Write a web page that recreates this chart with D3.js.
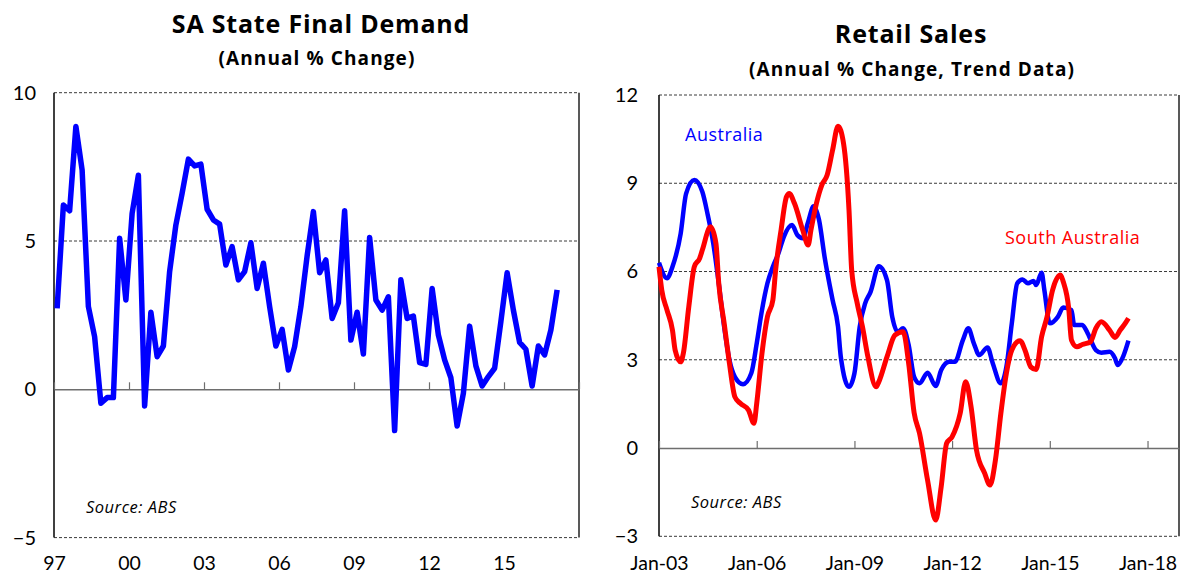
<!DOCTYPE html>
<html>
<head>
<meta charset="utf-8">
<script src="https://cdn.jsdelivr.net/npm/d3@7"></script>
<style>
  html, body { margin: 0; padding: 0; background: #fff; }
  svg { display: block; font-family: Lato, "Open Sans", sans-serif; }
</style>
</head>
<body>
<svg id="chart" width="1184" height="574"></svg>
<script>
// ---------- Data: SA State Final Demand (quarterly, annual % change) ----------
const sfdTickLabels = ["97", "00", "03", "06", "09", "12", "15"];
const sfdValues = [
  2.73, 6.21, 6.02, 8.86, 7.39, 2.79, 1.77, -0.47, -0.28, -0.28,
  5.09, 3.01, 5.93, 7.22, -0.56, 2.60, 1.10, 1.46, 3.97, 5.54,
  6.61, 7.76, 7.53, 7.59, 6.07, 5.71, 5.57, 4.19, 4.81, 3.69,
  3.97, 4.94, 3.40, 4.25, 2.79, 1.46, 2.02, 0.65, 1.44, 2.79,
  4.50, 5.99, 3.93, 4.36, 2.39, 2.92, 6.02, 1.66, 2.60, 1.19,
  5.12, 3.01, 2.67, 3.12, -1.39, 3.69, 2.39, 2.47, 0.90, 0.84,
  3.40, 1.83, 0.99, 0.39, -1.24, -0.13, 2.13, 0.79, 0.11, 0.43,
  0.71, 2.28, 3.93, 2.67, 1.58, 1.35, 0.11, 1.46, 1.16, 2.00,
  3.35
];
const sfdYTicks = [10, 5, 0, -5];

// ---------- Data: Retail Sales (trend, annual % change) ----------
const retailTickLabels = ["Jan-03", "Jan-06", "Jan-09", "Jan-12", "Jan-15", "Jan-18"];
const retailYTicks = [12, 9, 6, 3, 0, -3];

const auMonths = [
  "2003-01","2003-04","2003-06","2003-09","2003-11","2004-02","2004-05","2004-07","2004-09","2004-11",
  "2005-01","2005-03","2005-05","2005-08","2005-11","2006-01","2006-03","2006-05","2006-07","2006-09",
  "2006-11","2007-02","2007-04","2007-06","2007-08","2007-10","2007-12","2008-02","2008-05","2008-07",
  "2008-08","2008-11","2009-01","2009-03","2009-05","2009-07","2009-10","2010-01","2010-03","2010-05",
  "2010-07","2010-09","2010-11","2011-01","2011-04","2011-07","2011-09","2011-12","2012-02","2012-05",
  "2012-07","2012-09","2012-11","2013-02","2013-04","2013-07","2013-09","2013-11","2014-01","2014-03",
  "2014-05","2014-07","2014-08","2014-10","2014-11","2015-01","2015-04","2015-06","2015-09","2015-10",
  "2016-01","2016-03","2016-06","2016-08","2016-11","2017-01","2017-02","2017-04","2017-06"
];
const auValues = [
  6.30, 5.77, 6.16, 7.29, 8.65, 9.11, 8.71, 7.92, 6.95, 5.60,
  4.12, 2.99, 2.42, 2.17, 2.54, 3.56, 4.69, 5.60, 6.16, 6.61,
  7.18, 7.58, 7.24, 7.13, 7.69, 8.22, 7.75, 6.50, 5.03, 4.12,
  3.10, 2.08, 2.54, 4.12, 4.92, 5.31, 6.18, 5.71, 4.46, 3.95,
  4.07, 3.50, 2.42, 2.20, 2.56, 2.11, 2.65, 2.93, 2.93, 3.67,
  4.07, 3.56, 3.16, 3.42, 2.88, 2.20, 2.76, 4.24, 5.60, 5.73,
  5.60, 5.68, 5.54, 5.96, 5.37, 4.24, 4.46, 4.78, 4.69, 4.18,
  4.18, 3.90, 3.33, 3.24, 3.27, 3.05, 2.82, 3.10, 3.65
];

const saMonths = [
  "2003-01","2003-02","2003-04","2003-06","2003-07","2003-09","2003-10","2003-12","2004-02","2004-04",
  "2004-05","2004-08","2004-10","2004-11","2005-01","2005-03","2005-05","2005-07","2005-10","2005-12",
  "2006-01","2006-03","2006-05","2006-07","2006-08","2006-10","2006-12","2007-01","2007-03","2007-06",
  "2007-08","2007-09","2007-11","2008-01","2008-03","2008-05","2008-07","2008-09","2008-11","2008-12",
  "2009-02","2009-04","2009-06","2009-09","2009-10","2010-01","2010-04","2010-07","2010-09","2010-11",
  "2011-01","2011-04","2011-07","2011-09","2011-11","2012-01","2012-04","2012-06","2012-08","2012-10",
  "2013-01","2013-03","2013-05","2013-07","2013-09","2013-11","2014-02","2014-04","2014-06","2014-08",
  "2014-10","2014-12","2015-02","2015-05","2015-06","2015-08","2015-09","2015-11","2016-01","2016-04",
  "2016-06","2016-08","2016-11","2017-01","2017-03","2017-05","2017-06"
];
const saValues = [
  6.16, 5.37, 4.69, 4.01, 3.33, 2.93, 3.22, 4.80, 6.16, 6.45,
  6.73, 7.52, 6.95, 5.60, 4.24, 2.88, 1.74, 1.52, 1.29, 0.84,
  1.52, 3.22, 4.46, 5.03, 6.05, 7.41, 8.54, 8.65, 8.31, 7.41,
  6.90, 7.41, 8.31, 8.94, 9.28, 10.13, 10.94, 10.35, 8.09, 6.05,
  4.92, 4.12, 3.10, 2.08, 2.25, 3.10, 3.84, 3.95, 2.88, 1.20,
  0.50, -1.09, -2.45, -1.31, 0.16, 0.38, 1.18, 2.25, 1.40, -0.07,
  -0.86, -1.26, -0.41, 1.18, 2.54, 3.33, 3.65, 3.30, 2.76, 2.67,
  3.78, 4.46, 5.37, 5.88, 5.65, 4.75, 3.67, 3.44, 3.52, 3.61,
  4.07, 4.29, 4.01, 3.76, 4.01, 4.26, 4.41
];

// ---------- Drawing ----------
const svg = d3.select("#chart");
const FONT = "Lato, 'Open Sans', sans-serif";
const FONT2 = "'Open Sans', Lato, sans-serif";
const parseMonth = d3.timeParse("%Y-%m");

function gridAndFrame(g, y, yTicks, x0, x1) {
  g.selectAll("line.grid").data(yTicks.filter(v => v !== 0)).enter().append("line")
    .attr("class", "grid")
    .attr("x1", x0).attr("x2", x1)
    .attr("y1", d => y(d)).attr("y2", d => y(d))
    .attr("stroke", "#3a3a3a").attr("stroke-width", 1)
    .attr("stroke-dasharray", "3,2");
  const [yb, yt] = y.range();
  g.append("line").attr("x1", x0).attr("x2", x0).attr("y1", yt).attr("y2", yb)
    .attr("stroke", "#000").attr("stroke-width", 1.5);
  g.append("line").attr("x1", x1).attr("x2", x1).attr("y1", yt).attr("y2", yb)
    .attr("stroke", "#222").attr("stroke-width", 1.5);
}

function yLabels(g, y, ticks, xRight) {
  const ax = d3.axisLeft(y).tickValues(ticks).tickSize(0).tickPadding(0)
    .tickFormat(d3.format("d"));
  const ga = g.append("g").attr("transform", `translate(${xRight},0)`).call(ax);
  ga.select(".domain").remove();
  ga.selectAll("text").attr("font-family", FONT).attr("font-size", 20).attr("fill", "#000");
}

function xLabels(g, axis) {
  const gb = g.append("g").attr("transform", "translate(0,556)").call(axis);
  gb.select(".domain").remove();
  gb.selectAll("text").attr("font-family", FONT).attr("font-size", 19.5).attr("fill", "#000");
}

function addText(g, x, y, str, opts) {
  const t = g.append("text").attr("x", x).attr("y", y).text(str)
    .attr("font-family", FONT2).attr("fill", opts.fill || "#000")
    .attr("font-size", opts.size)
    .attr("letter-spacing", opts.ls || 0);
  if (opts.bold) t.attr("font-weight", "bold");
  if (opts.italic) t.attr("font-style", "italic");
  if (opts.anchor) t.attr("text-anchor", opts.anchor);
  return t;
}

// ===== Left chart =====
{
  const x0 = 54, x1 = 579;
  const x = d3.scaleLinear().domain([0, 84]).range([x0, x1]);
  const y = d3.scaleLinear().domain([-5, 10]).range([537.6, 92.7]);
  const g = svg.append("g");
  gridAndFrame(g, y, sfdYTicks, x0, x1);

  const tickCats = d3.range(0, 85, 12);
  const axT = d3.axisTop(x).tickValues(tickCats).tickSize(7).tickSizeOuter(0).tickFormat("");
  const gz = g.append("g").attr("transform", `translate(0,${y(0)})`).call(axT);
  gz.select(".domain").attr("stroke", "#6e6e6e").attr("stroke-width", 1.5);
  gz.selectAll(".tick line").attr("stroke", "#6e6e6e").attr("stroke-width", 1.2);

  xLabels(g, d3.axisBottom(x).tickValues(tickCats.slice(0, sfdTickLabels.length))
    .tickSize(0).tickPadding(0).tickFormat((d, i) => sfdTickLabels[i]));

  yLabels(g, y, sfdYTicks, 36);

  const line = d3.line().x((d, i) => x(i + 0.5)).y(d => y(d));
  g.append("path").datum(sfdValues).attr("d", line)
    .attr("fill", "none").attr("stroke", "#0000ff").attr("stroke-width", 5.5)
    .attr("stroke-linejoin", "round");

  addText(g, 86, 513, "Source: ABS", { size: 16.5, italic: true, ls: 0.5 });
  addText(g, 321, 33, "SA State Final Demand", { size: 25, bold: true, ls: 0.8, anchor: "middle" });
  addText(g, 317, 65, "(Annual % Change)", { size: 19, bold: true, ls: 1.1, anchor: "middle" });
}

// ===== Right chart =====
{
  const x0 = 659, x1 = 1179;
  const x = d3.scaleTime().domain([new Date(2003, 0, 1), new Date(2018, 11, 20)]).range([x0, x1]);
  const y = d3.scaleLinear().domain([-3, 12]).range([536.3, 95]);
  const g = svg.append("g");
  gridAndFrame(g, y, retailYTicks, x0, x1);

  const tickDates = retailTickLabels.map(s => d3.timeParse("%b-%y")(s));
  const axT = d3.axisTop(x).tickValues(tickDates).tickSize(7).tickSizeOuter(0).tickFormat("");
  const gz = g.append("g").attr("transform", `translate(0,${y(0)})`).call(axT);
  gz.select(".domain").attr("stroke", "#6e6e6e").attr("stroke-width", 1.5);
  gz.selectAll(".tick line").attr("stroke", "#6e6e6e").attr("stroke-width", 1.2);

  xLabels(g, d3.axisBottom(x).tickValues(tickDates).tickSize(0).tickPadding(0)
    .tickFormat((d, i) => retailTickLabels[i]));

  yLabels(g, y, retailYTicks, 638);

  const line = d3.line().curve(d3.curveMonotoneX).x(d => x(d.date)).y(d => y(d.v));
  const au = auMonths.map((m, i) => ({ date: parseMonth(m), v: auValues[i] }));
  const sa = saMonths.map((m, i) => ({ date: parseMonth(m), v: saValues[i] }));

  g.append("path").datum(au).attr("d", line)
    .attr("fill", "none").attr("stroke", "#0000ff").attr("stroke-width", 4.5)
    .attr("stroke-linejoin", "round");
  g.append("path").datum(sa).attr("d", line)
    .attr("fill", "none").attr("stroke", "#ff0000").attr("stroke-width", 5)
    .attr("stroke-linejoin", "round");

  addText(g, 685, 141, "Australia", { size: 18, ls: 0.5, fill: "#0000ff" });
  addText(g, 1005, 244, "South Australia", { size: 18, ls: 0.5, fill: "#ff0000" });
  addText(g, 691, 508, "Source: ABS", { size: 16.5, italic: true, ls: 0.5 });
  addText(g, 911, 43, "Retail Sales", { size: 25, bold: true, ls: 0.8, anchor: "middle" });
  addText(g, 912, 76, "(Annual % Change, Trend Data)", { size: 19, bold: true, ls: 1.1, anchor: "middle" });
}
</script>
</body>
</html>
